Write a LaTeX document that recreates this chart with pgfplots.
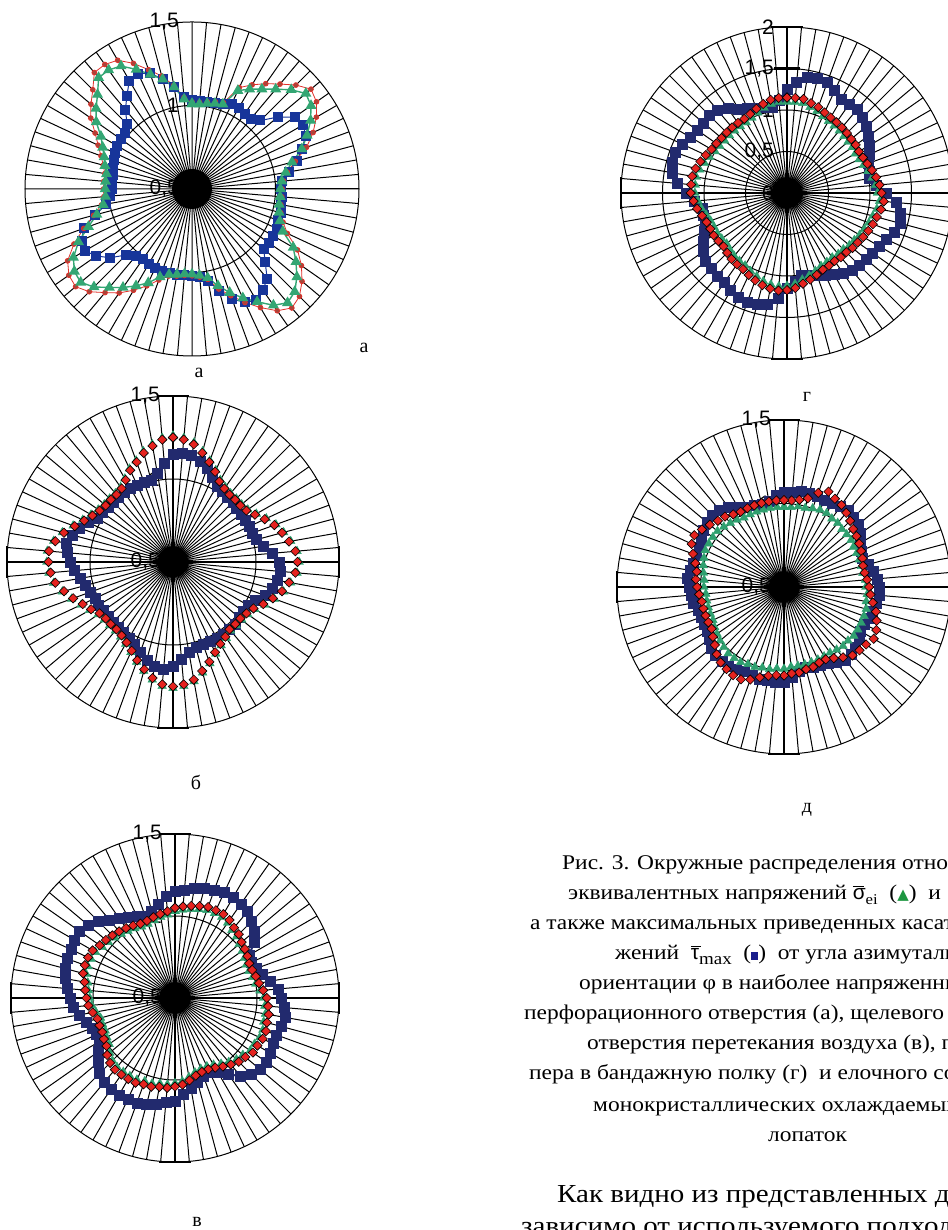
\documentclass[border=0pt]{standalone}
\usepackage{fontspec}
\setmainfont{Liberation Serif}
\newfontfamily\arial{Liberation Sans}
\newfontfamily\dejavu{DejaVu Sans}
\newfontfamily\capfont{Liberation Serif}[FakeStretch=1.12]
\usepackage{pgfplots}
\usepackage{pgfplotstable}
\usepgfplotslibrary{polar}
\pgfplotsset{compat=1.18}

\definecolor{blueA}{HTML}{17359A}
\definecolor{greenA}{HTML}{33A673}
\definecolor{redA}{HTML}{E0302A}
\definecolor{brownA}{HTML}{A8453A}
\definecolor{navy}{HTML}{222A6E}
\definecolor{tgreen}{HTML}{2FA06F}
\definecolor{dred}{HTML}{E5231F}
\definecolor{capgreen}{HTML}{1C9640}
\definecolor{capnavy}{HTML}{1A1E8C}

% phi = angle clockwise from top (deg); g = sigma_ei, r = second series, b = tau_max
\pgfplotstableread{
phi g r b
0 1.01 1.02 1.03
5 1.01 1.02 1.03
10 1.02 1.03 1.03
15 1.03 1.04 1.03
20 1.04 1.05 1.04
25 1.15 1.17 1.06
30 1.19 1.22 1.06
35 1.23 1.27 1.05
40 1.28 1.32 1.05
45 1.34 1.38 1.08
50 1.39 1.43 1.17
55 1.37 1.41 1.25
60 1.32 1.36 1.27
65 1.26 1.30 1.25
70 1.20 1.23 1.20
75 1.12 1.14 1.15
80 1.07 1.08 1.09
85 1.04 1.05 1.04
90 1.03 1.04 1.03
95 1.03 1.04 1.04
100 1.03 1.04 1.04
105 1.04 1.05 1.05
110 1.06 1.08 1.05
115 1.10 1.13 1.06
120 1.20 1.23 1.06
125 1.26 1.30 1.06
130 1.32 1.36 1.06
135 1.37 1.41 1.12
140 1.39 1.43 1.20
145 1.35 1.39 1.24
150 1.28 1.32 1.27
155 1.22 1.25 1.25
160 1.16 1.18 1.20
165 1.10 1.12 1.13
170 1.04 1.05 1.06
175 1.02 1.03 1.03
180 1.01 1.02 1.02
185 1.01 1.02 1.02
190 1.02 1.03 1.02
195 1.03 1.04 1.02
200 1.06 1.08 1.02
205 1.12 1.14 1.02
210 1.17 1.20 1.02
215 1.22 1.26 1.01
220 1.27 1.31 1.02
225 1.33 1.37 1.06
230 1.37 1.41 1.14
235 1.36 1.40 1.20
240 1.32 1.36 1.24
245 1.25 1.28 1.23
250 1.16 1.19 1.19
255 1.09 1.11 1.10
260 1.04 1.05 1.02
265 1.02 1.03 0.99
270 1.02 1.03 0.98
275 1.02 1.03 0.98
280 1.02 1.03 0.98
285 1.04 1.05 0.99
290 1.06 1.08 1.00
295 1.09 1.12 1.01
300 1.13 1.17 1.02
305 1.20 1.24 1.02
310 1.25 1.29 1.02
315 1.30 1.34 1.05
320 1.37 1.41 1.12
325 1.37 1.41 1.18
330 1.35 1.39 1.25
335 1.29 1.33 1.26
340 1.23 1.26 1.24
345 1.18 1.20 1.18
350 1.12 1.13 1.12
355 1.04 1.05 1.05
360 1.01 1.02 1.03
}\dataA

\pgfplotstableread{
phi g r b
0 1.26 1.25 1.15
5 1.25 1.24 1.16
10 1.23 1.22 1.15
15 1.19 1.18 1.13
20 1.15 1.14 1.10
25 1.11 1.10 1.06
30 1.07 1.06 1.03
35 1.05 1.04 1.02
40 1.04 1.03 1.01
45 1.04 1.03 1.01
50 1.04 1.03 1.00
55 1.05 1.04 1.00
60 1.08 1.07 1.00
65 1.12 1.11 1.01
70 1.16 1.15 1.01
75 1.19 1.18 1.02
80 1.22 1.21 1.05
85 1.25 1.24 1.10
90 1.26 1.25 1.14
95 1.25 1.24 1.15
100 1.22 1.21 1.14
105 1.19 1.18 1.12
110 1.15 1.14 1.09
115 1.11 1.10 1.05
120 1.07 1.06 1.02
125 1.05 1.04 1.02
130 1.04 1.03 1.02
135 1.04 1.03 1.03
140 1.04 1.03 1.03
145 1.06 1.05 1.03
150 1.08 1.07 1.03
155 1.11 1.10 1.03
160 1.15 1.14 1.03
165 1.19 1.18 1.03
170 1.23 1.22 1.05
175 1.25 1.24 1.09
180 1.26 1.25 1.13
185 1.25 1.24 1.15
190 1.22 1.21 1.14
195 1.18 1.17 1.11
200 1.14 1.13 1.08
205 1.10 1.09 1.05
210 1.07 1.06 1.03
215 1.05 1.04 1.02
220 1.04 1.03 1.01
225 1.04 1.03 1.01
230 1.04 1.03 1.01
235 1.05 1.04 1.01
240 1.08 1.07 1.02
245 1.11 1.10 1.02
250 1.15 1.14 1.03
255 1.19 1.18 1.05
260 1.23 1.22 1.07
265 1.25 1.24 1.10
270 1.26 1.25 1.12
275 1.26 1.25 1.14
280 1.23 1.22 1.15
285 1.19 1.18 1.13
290 1.14 1.13 1.10
295 1.10 1.09 1.06
300 1.07 1.06 1.03
305 1.05 1.04 1.02
310 1.04 1.03 1.01
315 1.04 1.03 1.01
320 1.04 1.03 1.01
325 1.05 1.04 1.01
330 1.08 1.07 1.01
335 1.12 1.11 1.01
340 1.15 1.14 1.01
345 1.19 1.18 1.01
350 1.22 1.21 1.04
355 1.25 1.24 1.10
360 1.26 1.25 1.15
}\dataB

\pgfplotstableread{
phi g r b
0 1.03 1.05 1.15
5 1.04 1.06 1.16
10 1.05 1.07 1.18
15 1.06 1.08 1.19
20 1.07 1.09 1.20
25 1.07 1.09 1.21
30 1.07 1.09 1.21
35 1.06 1.08 1.20
40 1.04 1.06 1.19
45 1.03 1.05 1.16
50 1.01 1.03 1.13
55 1.00 1.02 1.09
60 0.99 1.01 1.02
65 0.98 1.00 1.01
70 0.98 1.00 1.03
75 0.99 1.01 1.05
80 1.00 1.02 1.09
85 1.02 1.04 1.13
90 1.04 1.06 1.15
95 1.05 1.07 1.17
100 1.06 1.08 1.18
105 1.06 1.08 1.17
110 1.07 1.09 1.16
115 1.07 1.09 1.16
120 1.06 1.08 1.17
125 1.06 1.08 1.18
130 1.04 1.06 1.18
135 1.03 1.05 1.16
140 1.01 1.03 1.12
145 0.99 1.01 1.07
150 0.97 0.99 1.02
155 0.96 0.98 1.00
160 0.96 0.98 1.01
165 0.97 0.99 1.03
170 0.99 1.01 1.06
175 1.01 1.03 1.09
180 1.02 1.04 1.13
185 1.03 1.05 1.14
190 1.03 1.05 1.16
195 1.04 1.06 1.17
200 1.04 1.06 1.18
205 1.05 1.07 1.18
210 1.05 1.07 1.185
215 1.05 1.07 1.18
220 1.05 1.07 1.17
225 1.04 1.06 1.15
230 1.02 1.04 1.11
235 0.99 1.01 1.07
240 0.98 1.00 1.03
245 0.97 0.99 1.03
250 0.97 0.99 1.04
255 0.97 0.99 1.06
260 0.99 1.01 1.09
265 1.01 1.03 1.12
270 1.02 1.04 1.14
275 1.03 1.05 1.16
280 1.04 1.06 1.18
285 1.06 1.08 1.19
290 1.065 1.085 1.20
295 1.065 1.085 1.20
300 1.06 1.08 1.21
305 1.04 1.06 1.21
310 1.03 1.05 1.19
315 1.02 1.04 1.16
320 1.01 1.03 1.12
325 1.00 1.02 1.09
330 0.99 1.01 1.07
335 0.98 1.00 1.05
340 0.98 1.00 1.03
345 0.99 1.01 1.05
350 1.00 1.02 1.08
355 1.01 1.03 1.12
360 1.03 1.05 1.15
}\dataV

\pgfplotstableread{
phi g r b
0 1.10 1.15 1.25
5 1.10 1.15 1.34
10 1.10 1.15 1.42
15 1.07 1.12 1.43
20 1.05 1.10 1.42
25 1.02 1.07 1.36
30 1.00 1.05 1.31
35 0.99 1.04 1.31
40 0.98 1.03 1.31
45 0.97 1.02 1.29
50 0.96 1.01 1.25
55 0.96 1.01 1.20
60 0.95 1.00 1.14
65 0.96 1.01 1.09
70 0.98 1.03 1.04
75 1.01 1.06 1.02
80 1.04 1.09 1.00
85 1.07 1.12 1.08
90 1.09 1.14 1.20
95 1.12 1.17 1.32
100 1.10 1.15 1.38
105 1.07 1.12 1.41
110 1.05 1.10 1.38
115 1.03 1.08 1.32
120 1.01 1.06 1.28
125 0.99 1.04 1.26
130 0.98 1.03 1.25
135 0.96 1.01 1.23
140 0.96 1.01 1.22
145 0.95 1.00 1.18
150 0.96 1.01 1.13
155 0.97 1.02 1.09
160 1.00 1.05 1.05
165 1.03 1.08 1.02
170 1.06 1.11 1.01
175 1.10 1.15 1.07
180 1.12 1.17 1.15
185 1.13 1.18 1.27
190 1.12 1.17 1.36
195 1.10 1.15 1.39
200 1.07 1.12 1.40
205 1.04 1.09 1.39
210 1.01 1.06 1.36
215 1.00 1.05 1.32
220 0.99 1.04 1.31
225 0.97 1.02 1.29
230 0.95 1.00 1.28
235 0.96 1.01 1.23
240 0.97 1.02 1.16
245 0.97 1.02 1.10
250 0.98 1.03 1.05
255 1.01 1.06 1.04
260 1.05 1.10 1.04
265 1.08 1.13 1.12
270 1.11 1.16 1.22
275 1.11 1.16 1.33
280 1.11 1.16 1.40
285 1.09 1.14 1.43
290 1.06 1.11 1.43
295 1.03 1.08 1.39
300 1.00 1.05 1.35
305 0.99 1.04 1.32
310 0.98 1.03 1.31
315 0.98 1.03 1.32
320 0.98 1.03 1.30
325 0.98 1.03 1.24
330 0.98 1.03 1.17
335 1.00 1.05 1.12
340 1.03 1.08 1.09
345 1.06 1.11 1.07
350 1.09 1.14 1.05
355 1.10 1.15 1.12
360 1.10 1.15 1.25
}\dataG

\pgfplotstableread{
phi g r b
0 0.98 1.02 1.07
5 0.98 1.02 1.07
10 0.99 1.03 1.08
15 0.99 1.05 1.08
20 1.00 1.10 1.08
25 1.01 1.13 1.07
30 1.01 1.11 1.08
35 1.00 1.10 1.09
40 1.00 1.08 1.10
45 0.99 1.06 1.09
50 0.99 1.04 1.08
55 0.99 1.03 1.06
60 0.98 1.02 1.03
65 0.98 1.01 1.01
70 0.98 1.00 1.00
75 0.98 0.99 1.02
80 0.98 0.99 1.04
85 0.99 1.00 1.06
90 0.99 1.01 1.07
95 1.00 1.02 1.07
100 1.00 1.04 1.06
105 1.01 1.07 1.05
110 1.01 1.09 1.04
115 1.01 1.11 1.03
120 1.01 1.12 1.03
125 1.01 1.10 1.05
130 1.00 1.09 1.06
135 1.00 1.08 1.07
140 0.99 1.05 1.07
145 0.98 1.02 1.05
150 0.98 1.00 1.03
155 0.98 1.00 1.02
160 0.98 1.01 1.01
165 0.98 1.01 1.00
170 0.98 1.02 1.01
175 0.98 1.02 1.04
180 0.99 1.03 1.07
185 0.99 1.03 1.07
190 1.00 1.04 1.07
195 1.00 1.06 1.07
200 1.01 1.09 1.06
205 1.01 1.11 1.06
210 1.02 1.11 1.07
215 1.02 1.10 1.08
220 1.02 1.09 1.08
225 1.01 1.07 1.08
230 1.00 1.04 1.07
235 0.99 1.02 1.05
240 0.98 1.00 1.03
245 0.97 1.00 1.03
250 0.97 1.00 1.03
255 0.97 1.00 1.03
260 0.97 1.00 1.05
265 0.97 1.01 1.06
270 0.98 1.02 1.07
275 0.98 1.03 1.08
280 0.99 1.03 1.07
285 1.00 1.05 1.06
290 1.01 1.08 1.06
295 1.02 1.11 1.06
300 1.02 1.12 1.07
305 1.02 1.10 1.09
310 1.02 1.08 1.10
315 1.01 1.06 1.11
320 1.00 1.05 1.10
325 0.99 1.03 1.08
330 0.98 1.02 1.05
335 0.98 1.02 1.03
340 0.98 1.02 1.02
345 0.98 1.02 1.01
350 0.98 1.02 1.02
355 0.98 1.02 1.05
360 0.98 1.02 1.07
}\dataD

\pgfplotsset{
  radar/.style={
    scale only axis, anchor=center, clip=false,
    width=#1, height=#1,
    xmin=0, xmax=360, ymin=0,
    xtick={0,5,...,355},
    xticklabels={,,}, yticklabels={,,},
    major tick length=0pt,
    grid=major,
    major grid style={draw=black, line width=1bp},
    axis line style={draw=black, line width=1bp},
  },
  bluebig/.style={draw=navy, line width=2bp, mark=square*, mark size=5bp,
    mark options={fill=navy, draw=navy, line width=0.5bp}},
  greentri/.style={only marks, mark=triangle*, mark size=5bp,
    mark options={fill=tgreen, draw=tgreen}},
  reddia/.style={only marks, mark=square*, mark size=3.3bp,
    mark options={rotate=45, fill=dred, draw=black, line width=0.6bp}},
}
\tikzset{
  lbltxt/.style={anchor=east, inner sep=0pt, xshift=-13bp, font=\arial\fontsize{21}{21}\selectfont},
  subtxt/.style={inner sep=0pt, anchor=center, font=\fontsize{20}{20}\selectfont},
  captxt/.style={inner sep=0pt, anchor=base west, font=\capfont\fontsize{21}{21}\selectfont},
  bodytxt/.style={inner sep=0pt, anchor=base west, font=\capfont\fontsize{26}{26}\selectfont},
  thickaxis/.style={line width=2.8bp, draw=black},
}

\begin{document}
\begin{tikzpicture}[x=1bp, y=1bp]
\useasboundingbox (0,0) rectangle (948,1230);
\clip (0,0) rectangle (948,1230);

% ---------- chart a ----------
\begin{polaraxis}[radar=334bp, at={(192bp,1041bp)}, ymax=1, ytick={0.5}]
\addplot[draw=blueA, line width=1bp, mark=square*, mark size=4.5bp,
  mark options={fill=blueA, draw=blueA}]
  table[x expr=90-\thisrow{phi}, y expr=\thisrow{b}-0.5]{\dataA};
\addplot[draw=redA, line width=0.8bp, mark=*, mark size=2.4bp,
  mark options={fill=brownA, draw=redA}]
  table[x expr=90-\thisrow{phi}, y expr=\thisrow{r}-0.5]{\dataA};
\addplot[draw=greenA, line width=1.4bp, mark=triangle*, mark size=5bp,
  mark options={fill=greenA, draw=greenA}]
  table[x expr=90-\thisrow{phi}, y expr=\thisrow{g}-0.5]{\dataA};
\node[lbltxt] at (axis cs:90,1) {1,5};
\node[lbltxt] at (axis cs:90,0.5) {1};
\node[lbltxt] at (axis cs:90,0) {0,5};
\fill[black] (axis cs:0,0) circle[radius=20bp];
\end{polaraxis}

% ---------- chart b ----------
\begin{polaraxis}[radar=332bp, at={(173bp,668bp)}, ymax=1, ytick={0.5}]
\draw[thickaxis] (axis cs:0,1) -- (axis cs:180,1);
\draw[thickaxis] (axis cs:90,1) -- (axis cs:270,1);
\draw[thickaxis] (axis cs:90,1) ++(-16bp,0bp) -- ++(32bp,0bp);
\draw[thickaxis] (axis cs:270,1) ++(-16bp,0bp) -- ++(32bp,0bp);
\draw[thickaxis] (axis cs:0,1) ++(0bp,-16bp) -- ++(0bp,32bp);
\draw[thickaxis] (axis cs:180,1) ++(0bp,-16bp) -- ++(0bp,32bp);
\addplot[bluebig] table[x expr=90-\thisrow{phi}, y expr=\thisrow{b}-0.5]{\dataB};
\addplot[greentri] table[x expr=90-\thisrow{phi}, y expr=\thisrow{g}-0.5]{\dataB};
\addplot[reddia] table[x expr=90-\thisrow{phi}, y expr=\thisrow{r}-0.5]{\dataB};
\node[lbltxt] at (axis cs:90,1) {1,5};
\node[lbltxt] at (axis cs:90,0.5) {1};
\node[lbltxt] at (axis cs:90,0) {0,5};
\fill[black] (axis cs:0,0) circle[radius=14bp];
\end{polaraxis}

% ---------- chart v ----------
\begin{polaraxis}[radar=328bp, at={(175bp,232bp)}, ymax=1, ytick={0.5}]
\draw[thickaxis] (axis cs:0,1) -- (axis cs:180,1);
\draw[thickaxis] (axis cs:90,1) -- (axis cs:270,1);
\draw[thickaxis] (axis cs:90,1) ++(-16bp,0bp) -- ++(32bp,0bp);
\draw[thickaxis] (axis cs:270,1) ++(-16bp,0bp) -- ++(32bp,0bp);
\draw[thickaxis] (axis cs:0,1) ++(0bp,-16bp) -- ++(0bp,32bp);
\draw[thickaxis] (axis cs:180,1) ++(0bp,-16bp) -- ++(0bp,32bp);
\addplot[bluebig] table[x expr=90-\thisrow{phi}, y expr=\thisrow{b}-0.5]{\dataV};
\addplot[greentri] table[x expr=90-\thisrow{phi}, y expr=\thisrow{g}-0.5]{\dataV};
\addplot[reddia] table[x expr=90-\thisrow{phi}, y expr=\thisrow{r}-0.5]{\dataV};
\node[lbltxt] at (axis cs:90,1) {1,5};
\node[lbltxt] at (axis cs:90,0.5) {1};
\node[lbltxt] at (axis cs:90,0) {0,5};
\fill[black] (axis cs:0,0) circle[radius=14bp];
\end{polaraxis}

% ---------- chart g ----------
\begin{polaraxis}[radar=332bp, at={(787bp,1037bp)}, ymax=2, ytick={0.5,1,1.5}]
\draw[thickaxis] (axis cs:0,2) -- (axis cs:180,2);
\draw[thickaxis] (axis cs:90,2) -- (axis cs:270,2);
\draw[thickaxis] (axis cs:90,2) ++(-16bp,0bp) -- ++(32bp,0bp);
\draw[thickaxis] (axis cs:270,2) ++(-16bp,0bp) -- ++(32bp,0bp);
\draw[thickaxis] (axis cs:0,2) ++(0bp,-16bp) -- ++(0bp,32bp);
\draw[thickaxis] (axis cs:180,2) ++(0bp,-16bp) -- ++(0bp,32bp);
\draw[thickaxis] (axis cs:90,1.5) ++(-13bp,0bp) -- ++(26bp,0bp);
\addplot[bluebig] table[x expr=90-\thisrow{phi}, y expr=\thisrow{b}]{\dataG};
\addplot[greentri] table[x expr=90-\thisrow{phi}, y expr=\thisrow{g}]{\dataG};
\addplot[reddia] table[x expr=90-\thisrow{phi}, y expr=\thisrow{r}]{\dataG};
\node[lbltxt] at (axis cs:90,2) {2};
\node[lbltxt] at (axis cs:90,1.5) {1,5};
\node[lbltxt] at (axis cs:90,1) {1};
\node[lbltxt] at (axis cs:90,0.5) {0,5};
\node[lbltxt] at (axis cs:90,0) {0};
\fill[black] (axis cs:0,0) circle[radius=14bp];
\end{polaraxis}

% ---------- chart d ----------
\begin{polaraxis}[radar=334bp, at={(784bp,643bp)}, ymax=1, ytick={0.5}]
\draw[thickaxis] (axis cs:0,1) -- (axis cs:180,1);
\draw[thickaxis] (axis cs:90,1) -- (axis cs:270,1);
\draw[thickaxis] (axis cs:90,1) ++(-16bp,0bp) -- ++(32bp,0bp);
\draw[thickaxis] (axis cs:270,1) ++(-16bp,0bp) -- ++(32bp,0bp);
\draw[thickaxis] (axis cs:0,1) ++(0bp,-16bp) -- ++(0bp,32bp);
\draw[thickaxis] (axis cs:180,1) ++(0bp,-16bp) -- ++(0bp,32bp);
\addplot[bluebig] table[x expr=90-\thisrow{phi}, y expr=\thisrow{b}-0.5]{\dataD};
\addplot[greentri] table[x expr=90-\thisrow{phi}, y expr=\thisrow{g}-0.5]{\dataD};
\addplot[reddia] table[x expr=90-\thisrow{phi}, y expr=\thisrow{r}-0.5]{\dataD};
\node[lbltxt] at (axis cs:90,1) {1,5};
\node[lbltxt] at (axis cs:90,0.5) {1};
\node[lbltxt] at (axis cs:90,0) {0,5};
\fill[black] (axis cs:0,0) circle[radius=14bp];
\end{polaraxis}

% ---------- sub-figure letters ----------
\node[subtxt] at (364,882) {а};
\node[subtxt] at (199,857) {а};
\node[subtxt] at (196,448) {б};
\node[subtxt] at (197,8) {в};
\node[subtxt] at (807,833) {г};
\node[subtxt] at (807,420) {д};

% ---------- caption ----------
\node[captxt] at (562,360) {Рис. 3. Окружные распределения относительных};
\node[captxt] at (568,330) {эквивалентных напряжений
  {\arial\rlap{\rule[13bp]{11bp}{1.3bp}}σ}\raisebox{-5bp}{\fontsize{15}{15}\selectfont ei}
  \ (\textcolor{capgreen}{\dejavu\fontsize{15}{15}\selectfont ▲}) \ и};
\node[captxt] at (530,300) {а также максимальных приведенных касательных};
\node[captxt] at (615,270) {жений \
  {\arial\rlap{\rule[13bp]{10bp}{1.3bp}}τ}\raisebox{-5bp}{\fontsize{17}{17}\selectfont max}
  \ (\textcolor{capnavy}{\rule{7bp}{8bp}}) \ от угла азимутальной};
\node[captxt] at (579,240) {ориентации φ в наиболее напряженных};
\node[captxt] at (524,210) {перфорационного отверстия (а), щелевого};
\node[captxt] at (587,180) {отверстия перетекания воздуха (в), перехода};
\node[captxt] at (529,150) {пера в бандажную полку (г) \ и елочного соединения};
\node[captxt] at (593,118) {монокристаллических охлаждаемых рабочих};
\node[captxt] at (768,88) {лопаток};
\node[bodytxt] at (557,27) {Как видно из представленных данных,};
\node[bodytxt] at (521,-4) {зависимо от используемого подхода};
\end{tikzpicture}
\end{document}
